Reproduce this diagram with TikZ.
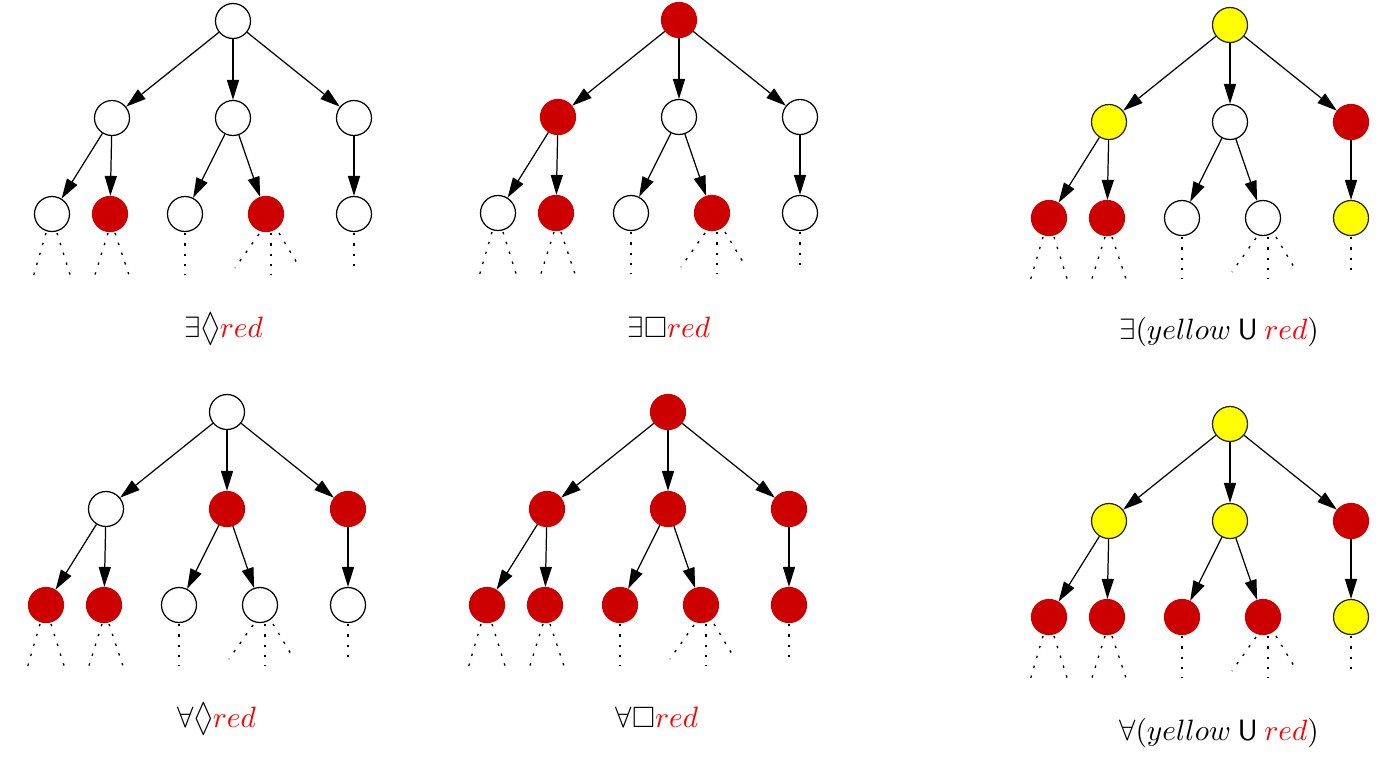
\documentclass[tikz,border=0pt]{standalone}
\usepackage{amssymb}
\usetikzlibrary{arrows.meta}
\definecolor{nodered}{RGB}{205,0,0}
\definecolor{nodeyellow}{RGB}{255,255,0}
\definecolor{labelred}{RGB}{255,0,0}
\newcommand\tallloz{\mathord{\raisebox{-0.13em}{\scalebox{0.95}[1.35]{$\lozenge$}}}}
\tikzset{
  nd/.style={circle, minimum size=11.9pt, inner sep=0pt, line width=0.42pt},
  W/.style={nd, draw=black, fill=white},
  R/.style={nd, draw=nodered, fill=nodered},
  Y/.style={nd, draw=black!85, fill=nodeyellow},
  arr/.style={line width=0.42pt, -{Triangle[length=6.8pt,width=4.1pt]}},
  dotl/.style={line width=0.45pt, dash pattern=on 0.8pt off 2.7pt},
  lab/.style={anchor=base, inner sep=0pt},
}
\newcommand\mytree[9]{%
  \begin{scope}[shift={#2}]
  \node[#3] (#1r) at (233,21) {};
  \node[#4] (#1a) at (112,118) {};
  \node[#5] (#1b) at (233,118) {};
  \node[#6] (#1c) at (354,118) {};
  \node[#7] (#1d) at (52,214) {};
  \node[#8] (#1e) at (110,214) {};
  \node[#9] (#1f) at (185,214) {};
  \mytreeb{#1}}
\newcommand\mytreeb[3]{%
  \node[#2] (#1g) at (266,214) {};
  \node[#3] (#1h) at (354,214) {};
  \draw[arr] (#1r) -- (#1a);
  \draw[arr] (#1r) -- (#1b);
  \draw[arr] (#1r) -- (#1c);
  \draw[arr] (#1a) -- (#1d);
  \draw[arr] (#1a) -- (#1e);
  \draw[arr] (#1b) -- (#1f);
  \draw[arr] (#1b) -- (#1g);
  \draw[arr] (#1c) -- (#1h);
  \draw[dotl] ([shift={(-6,19)}]#1d.center) -- ([shift={(-20,67)}]#1d.center);
  \draw[dotl] ([shift={(5,19)}]#1d.center) -- ([shift={(20,67)}]#1d.center);
  \draw[dotl] ([shift={(-2,19)}]#1e.center) -- ([shift={(-17,67)}]#1e.center);
  \draw[dotl] ([shift={(5,19)}]#1e.center) -- ([shift={(21,67)}]#1e.center);
  \draw[dotl] ([shift={(0,19)}]#1f.center) -- ([shift={(0,61)}]#1f.center);
  \draw[dotl] ([shift={(-7,20)}]#1g.center) -- ([shift={(-31,54)}]#1g.center);
  \draw[dotl] ([shift={(5,19)}]#1g.center) -- ([shift={(5,61)}]#1g.center);
  \draw[dotl] ([shift={(13,19)}]#1g.center) -- ([shift={(34,54)}]#1g.center);
  \draw[dotl] ([shift={(0,19)}]#1h.center) -- ([shift={(0,59)}]#1h.center);
  \end{scope}}
\begin{document}
\begin{tikzpicture}[x=0.34pt,y=-0.34pt]
\useasboundingbox (0,0) rectangle (1392,765);
\mytree{p}{(0,0)}{W}{W}{W}{W}{W}{R}{W}{R}{W}
\mytree{q}{(446,-1)}{R}{R}{W}{W}{W}{R}{W}{R}{W}
\mytree{s}{(997,4)}{Y}{Y}{W}{R}{R}{R}{W}{W}{Y}
\mytree{t}{(-6,391)}{W}{W}{R}{R}{R}{R}{W}{W}{W}
\mytree{u}{(435,391)}{R}{R}{R}{R}{R}{R}{R}{R}{R}
\mytree{v}{(997,403)}{Y}{Y}{Y}{R}{R}{R}{R}{R}{Y}
\node[lab] (l1) at (224,337) {$\exists\tallloz\textcolor{labelred}{red}$};
\node[lab] (l2) at (669,337) {$\exists\Box\textcolor{labelred}{red}$};
\node[lab] (l3) at (1219,339) {$\exists(yellow\mathbin{\mathsf{U}}\textcolor{labelred}{red})$};
\node[lab] (l4) at (217,727) {$\forall\tallloz\textcolor{labelred}{red}$};
\node[lab] (l5) at (657,727) {$\forall\Box\textcolor{labelred}{red}$};
\node[lab] (l6) at (1219,740) {$\forall(yellow\mathbin{\mathsf{U}}\textcolor{labelred}{red})$};
\end{tikzpicture}
\end{document}
